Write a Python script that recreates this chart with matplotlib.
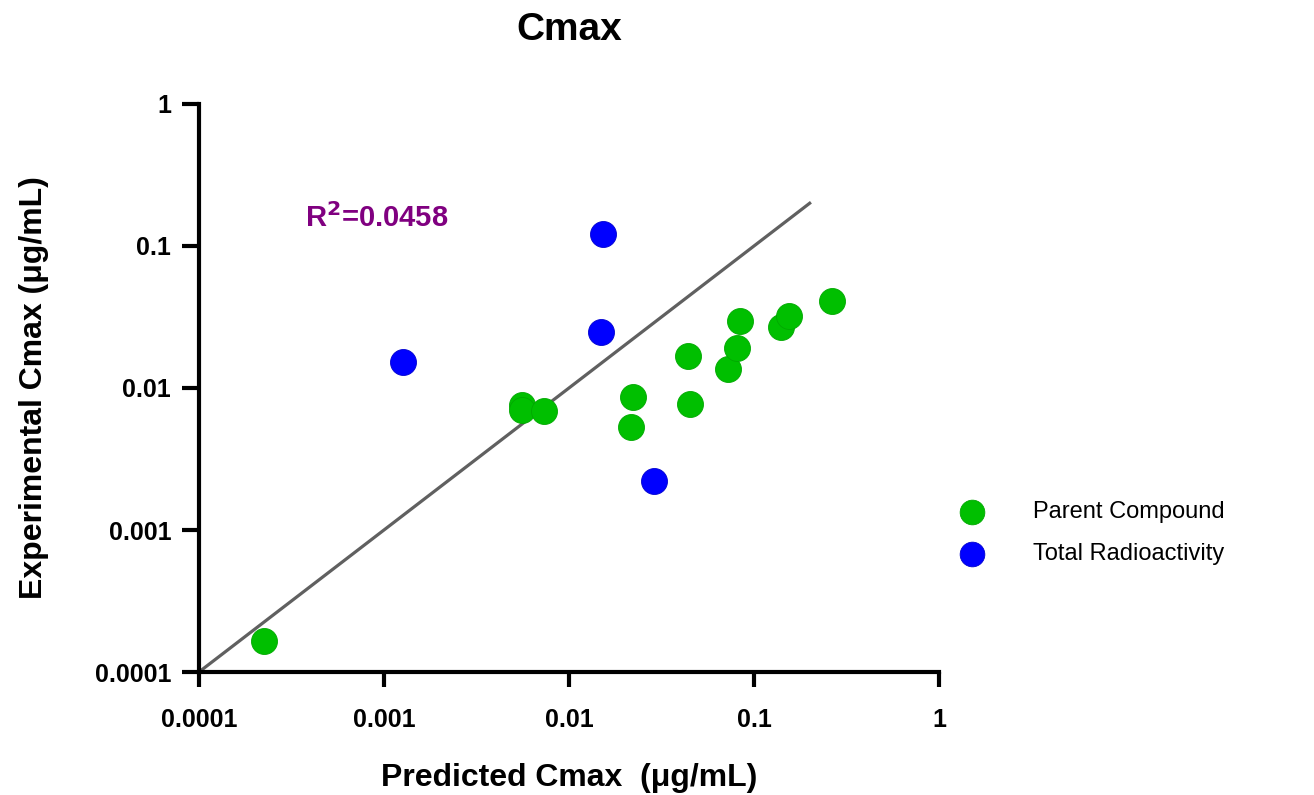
import numpy as np
import matplotlib.pyplot as plt

# -------------------------
# Data
# -------------------------
parent_pred = [0.000224, 0.0056, 0.0056, 0.00733, 0.0216, 0.0222, 0.044, 0.0451,
               0.0723, 0.0809, 0.084, 0.14, 0.155, 0.264]
parent_exp = [0.000165, 0.0076, 0.0070, 0.0069, 0.0053, 0.00865, 0.0168, 0.0077,
              0.0136, 0.0191, 0.0297, 0.0269, 0.0321, 0.041]

total_pred = [0.00127, 0.0153, 0.0149, 0.0288]
total_exp = [0.0152, 0.122, 0.0248, 0.00221]

line_x = [0.0001, 0.2]
line_y = [0.0001, 0.2]

ticks = [0.0001, 0.001, 0.01, 0.1, 1]
tick_labels = ["0.0001", "0.001", "0.01", "0.1", "1"]

plt.rcParams['font.family'] = ['Liberation Sans', 'DejaVu Sans']

fig = plt.figure(figsize=(13.14, 7.95), dpi=100)
ax = fig.add_axes([0.1514, 0.1547, 0.5632, 0.7145])

ax.plot(line_x, line_y, color='#606060', lw=2.3, zorder=2)
ax.scatter(parent_pred, parent_exp, s=350, color='#00bf00', edgecolor='#00a800',
           lw=0.6, zorder=3, label='Parent Compound')
ax.scatter(total_pred, total_exp, s=350, color='#0000ff', edgecolor='#0000d0',
           lw=0.6, zorder=3, label='Total Radioactivity')

ax.set_xscale('log')
ax.set_yscale('log')
ax.set_xlim(0.0001, 1)
ax.set_ylim(0.0001, 1)
ax.set_xticks(ticks)
ax.set_xticklabels(tick_labels)
ax.set_yticks(ticks)
ax.set_yticklabels(tick_labels)
ax.minorticks_off()

for side in ['top', 'right']:
    ax.spines[side].set_visible(False)
for side in ['left', 'bottom']:
    ax.spines[side].set_linewidth(3)
ax.tick_params(axis='y', width=3, length=12, labelsize=18, pad=8)
ax.tick_params(axis='x', width=3, length=11, labelsize=18, pad=15)
for lbl in ax.get_xticklabels() + ax.get_yticklabels():
    lbl.set_fontweight('bold')

ax.set_title('Cmax', fontsize=28, fontweight='bold', pad=46)
ax.set_xlabel('Predicted Cmax  (\u03bcg/mL)', fontsize=23, fontweight='bold', labelpad=22)
ax.set_ylabel('Experimental Cmax (\u03bcg/mL)', fontsize=23, fontweight='bold', labelpad=33)

ax.text(0.000374, 0.157, 'R$^{\\mathbf{2}}$=0.0458', color='#800080', fontsize=21,
        fontweight='bold', ha='left', va='center')

ax.legend(loc='center left', bbox_to_anchor=(1.0, 0.245), bbox_transform=ax.transAxes,
          frameon=False, fontsize=17, handletextpad=1.6, labelspacing=0.85,
          borderaxespad=0, markerscale=0.95)

fig.savefig('out.png', dpi=100)
